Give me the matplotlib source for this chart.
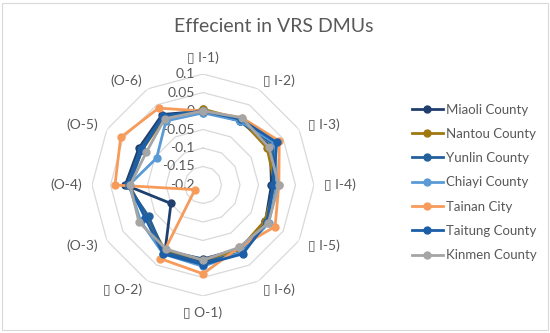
import numpy as np
import matplotlib.pyplot as plt
from matplotlib.patches import Rectangle

plt.rcParams['font.family'] = ['Lato', 'DejaVu Sans']

# axis categories, clockwise from top
categories = ['\u25af I-1)', '\u25af I-2)', '\u25af I-3)', '\u25af I-4)', '\u25af I-5)', '\u25af I-6)',
              '\u25af O-1)', '\u25af O-2)', '(O-3)', '(O-4)', '(O-5)', '(O-6)']

series_names = ['Miaoli County', 'Nantou County', 'Yunlin County', 'Chiayi County',
                'Tainan City', 'Taitung County', 'Kinmen County']

miaoli = [0.0, 0.0, 0.01, -0.015, -0.005, 0.0, 0.0, 0.005, -0.10, 0.01, 0.0, 0.02]
nantou = [0.005, 0.005, 0.0, -0.005, -0.007, 0.0, 0.005, 0.005, -0.025, 0.0, -0.01, 0.01]
yunlin = [0.0, 0.0, 0.02, -0.01, 0.0, 0.01, 0.01, 0.01, -0.03, 0.005, -0.005, 0.015]
chiayi = [-0.005, 0.0, 0.025, 0.0, 0.005, 0.01, 0.02, 0.015, -0.005, 0.0, -0.055, 0.0]
tainan = [0.0, 0.01, 0.038, 0.005, 0.025, -0.005, 0.04, 0.03, -0.175, 0.038, 0.057, 0.04]
taitung = [0.0, 0.005, 0.03, -0.01, 0.0, 0.015, 0.015, 0.015, -0.02, 0.0, -0.01, 0.015]
kinmen = [0.0, 0.01, 0.005, 0.005, 0.004, -0.005, 0.003, 0.0, 0.0, -0.003, -0.023, 0.007]

ring_ticks = [-0.2, -0.15, -0.1, -0.05, 0, 0.05, 0.1]
tick_labels = ['-0.2', '-0.15', '-0.1', '-0.05', '0', '0.05', '0.1']

colors = ['#1F3F6E', '#A07810', '#24609A', '#5B9BD5', '#F79B5B', '#1C5FA8', '#A5A5A5']
all_series = [miaoli, nantou, yunlin, chiayi, tainan, taitung, kinmen]

fig = plt.figure(figsize=(5.5, 3.33), dpi=100)
fig.patches.append(Rectangle((0.004, 0.008), 0.992, 0.984, transform=fig.transFigure,
                             fill=False, edgecolor='#D9D9D9', lw=0.8))

ax = fig.add_axes([0.1673, 0.1111, 0.4036, 0.6667], projection='polar')
ax.set_theta_zero_location('N')
ax.set_theta_direction(-1)
ax.set_ylim(-0.2, 0.1)
ax.grid(False)
ax.spines['polar'].set_visible(False)
ax.set_xticks([])
ax.set_yticks([])
ax.patch.set_alpha(0)

n = len(categories)
angles = np.linspace(0, 2 * np.pi, n, endpoint=False)
closed = np.append(angles, angles[0])

# polygon grid
for r in ring_ticks[1:]:
    ax.plot(closed, [r] * (n + 1), color='#D9D9D9', lw=0.9, zorder=1)

for r, lab in zip(ring_ticks, tick_labels):
    ax.annotate(lab, (0, r), xytext=(-6, 0), textcoords='offset points',
                ha='right', va='center', fontsize=10, color='#595959', zorder=2)

for name, vals, c in zip(series_names, all_series, colors):
    v = np.append(vals, vals[0])
    ax.plot(closed, v, color=c, lw=2, marker='o', ms=5, label=name, zorder=3)

# category labels
for a, lab in zip(angles, categories):
    s = np.sin(a)
    if s > 0.1:
        ha = 'left'
    elif s < -0.1:
        ha = 'right'
    else:
        ha = 'center'
    cth = np.cos(a)
    if abs(s) < 0.1:
        va = 'bottom' if cth > 0 else 'top'
    else:
        va = 'center'
    ax.text(a, 0.1 + 0.3 * 0.09, lab, ha=ha, va=va, fontsize=10, color='#595959')

fig.text(0.497, 0.92, 'Effecient in VRS DMUs', ha='center', va='center',
         fontsize=14, color='#595959')

handles, labels = ax.get_legend_handles_labels()
leg = fig.legend(handles, labels, loc='upper left', bbox_to_anchor=(0.74, 0.705),
                 frameon=False, fontsize=9.5, handlelength=2.3, handletextpad=0.25,
                 labelspacing=0.93, borderaxespad=0)
for t in leg.get_texts():
    t.set_color('#595959')

fig.savefig('out.png', dpi=100)
